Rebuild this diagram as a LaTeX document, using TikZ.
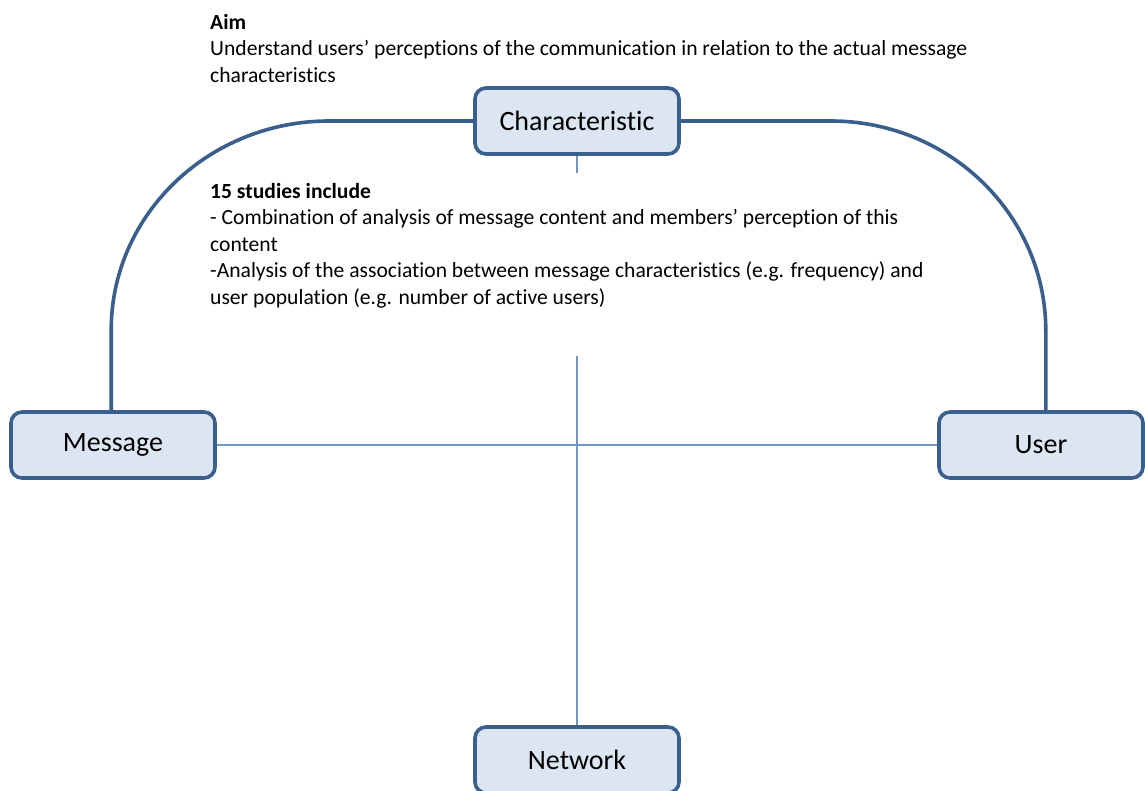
\documentclass[tikz,border=0pt]{standalone}
\usepackage{fontspec}
\setmainfont[Ligatures=NoCommon]{Carlito}
\definecolor{boxfill}{HTML}{DCE6F2}
\definecolor{boxline}{HTML}{3B5F8C}
\definecolor{thinline}{HTML}{7096C8}
\begin{document}
\begin{tikzpicture}[x=1pt,y=1pt,
  entity/.style={draw=boxline, fill=boxfill, line width=3.6pt, rounded corners=11pt,
    minimum width=204pt, minimum height=66pt, inner sep=0pt,
    font=\fontsize{28}{32}\selectfont},
  arcline/.style={draw=boxline, line width=3.6pt},
  axisline/.style={draw=thinline, line width=1.4pt},
  note/.style={anchor=north west, align=left, inner sep=0pt,
    font=\fontsize{21.6}{26.5}\selectfont}]
\useasboundingbox (0,0) rectangle (1145,790);
\fill[white] (0,0) rectangle (1145,790);

% the four entities
\node[entity] (char) at (577,669) {Characteristic};
\node[entity] (msg)  at (113,345) {Message};
\node[entity] (user) at (1041,345) {User};
\node[entity] (net)  at (577,30) {Network};

% thin cross-axes
\draw[axisline] (msg.east) -- (user.west);
\draw[axisline] (char.south) -- (net.north);

% curved links from Characteristic down to Message and User
\draw[arcline] (char.west) -- ++(-144,0)
  arc[start angle=90, end angle=180, x radius=218, y radius=209] coordinate (lbend)
  -- (lbend |- msg.north);
\draw[arcline] (char.east) -- ++(150,0)
  arc[start angle=90, end angle=0, x radius=215, y radius=210] coordinate (rbend)
  -- (rbend |- user.north);

% aim text
\node[note] (aim) at (210,776)
  {\textbf{Aim}\\
   Understand users’ perceptions of the communication in relation to the actual message\\
   characteristics};

% white panel with the studies text over the vertical axis
\node[fill=white, inner sep=0pt, minimum width=740pt, minimum height=183pt,
  anchor=north west] (panel) at (205,617) {};
\node[note] (studies) at (210,607)
  {\textbf{15 studies include}\\
   - Combination of analysis of message content and members’ perception of this\\
   content\\
   -Analysis of the association between message characteristics (e.g. frequency) and\\
   user population (e.g. number of active users)};
\end{tikzpicture}
\end{document}
